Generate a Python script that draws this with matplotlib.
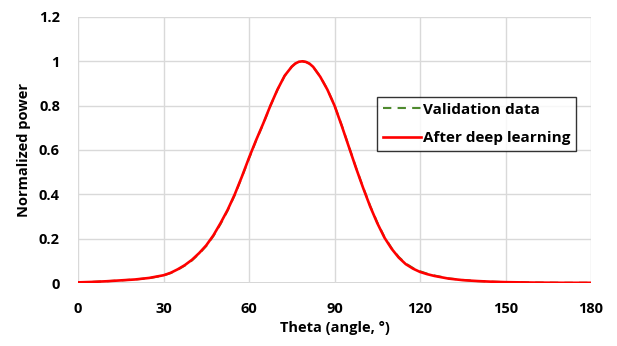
import matplotlib
matplotlib.use("Agg")
import matplotlib.pyplot as plt

theta = [0, 5, 10, 15, 20, 25, 30, 32.5, 35, 37.5, 40, 42.5, 45, 47.5, 50,
         52.5, 55, 57.5, 60, 62.5, 65, 67.5, 70, 72.5, 75, 76.25, 77.5, 78.75,
         80, 81.25, 82.5, 85, 87.5, 90, 92.5, 95, 97.5, 100, 102.5, 105, 107.5,
         110, 112.5, 115, 117.5, 120, 122.5, 125, 130, 135, 140, 145, 150, 155,
         160, 165, 170, 175, 180]
after_dl = [0.003, 0.005, 0.008, 0.012, 0.016, 0.023, 0.035, 0.046, 0.062,
            0.081, 0.105, 0.135, 0.17, 0.215, 0.27, 0.33, 0.40, 0.48, 0.565,
            0.645, 0.72, 0.80, 0.873, 0.935, 0.976, 0.99, 0.998, 1.0, 0.997,
            0.989, 0.975, 0.93, 0.872, 0.80, 0.71, 0.615, 0.52, 0.43, 0.345,
            0.27, 0.205, 0.155, 0.115, 0.085, 0.065, 0.05, 0.04, 0.032, 0.02,
            0.013, 0.009, 0.006, 0.004, 0.003, 0.002, 0.0015, 0.001, 0.001,
            0.001]
validation = [0.003, 0.005, 0.008, 0.012, 0.016, 0.022, 0.034, 0.045, 0.060,
              0.079, 0.102, 0.132, 0.167, 0.212, 0.266, 0.327, 0.397, 0.478,
              0.562, 0.643, 0.718, 0.799, 0.872, 0.934, 0.976, 0.99, 0.998,
              1.0, 0.997, 0.989, 0.975, 0.931, 0.873, 0.801, 0.712, 0.617,
              0.522, 0.432, 0.348, 0.273, 0.208, 0.158, 0.118, 0.088, 0.068,
              0.053, 0.042, 0.034, 0.021, 0.014, 0.009, 0.006, 0.004, 0.003,
              0.002, 0.0015, 0.001, 0.001, 0.001]

x_ticks = [0, 30, 60, 90, 120, 150, 180]
y_ticks = [0, 0.2, 0.4, 0.6, 0.8, 1.0, 1.2]
y_labels = ["0", "0.2", "0.4", "0.6", "0.8", "1", "1.2"]

plt.rcParams["font.family"] = ["Open Sans", "DejaVu Sans"]

fig = plt.figure(figsize=(6.17, 3.46), dpi=100)
ax = fig.add_axes([0.1264, 0.182, 0.8316, 0.769])

ax.plot(theta, validation, color="#4e8a2e", linestyle=(0, (4, 3)), linewidth=1.5,
        label="Validation data")
ax.plot(theta, after_dl, color="#ff0000", linewidth=1.9, label="After deep learning")

ax.set_xlim(0, 180)
ax.set_ylim(0, 1.2)
ax.set_xticks(x_ticks)
ax.set_yticks(y_ticks)
ax.set_yticklabels(y_labels)
ax.tick_params(axis="x", length=0, labelsize=10.5, pad=14)
ax.tick_params(axis="y", length=0, labelsize=10.5, pad=13)
for lab in ax.get_xticklabels() + ax.get_yticklabels():
    lab.set_fontweight("bold")
ax.grid(True, color="#d9d9d9", linewidth=1)
ax.set_axisbelow(True)
for s in ax.spines.values():
    s.set_visible(False)
ax.axhline(0, color="#d0d0d0", linewidth=1.2, zorder=0)

ax.set_xlabel("Theta (angle, °)", fontsize=10.5, fontweight="bold", labelpad=3)
ax.set_ylabel("Normalized power", fontsize=10.5, fontweight="bold", labelpad=6)

leg = ax.legend(loc="center", bbox_to_anchor=(0.777, 0.598),
                frameon=True, fancybox=False, handlelength=2.5, handletextpad=0.15,
                borderpad=0.35, labelspacing=0.95, borderaxespad=0,
                prop={"weight": "bold", "size": 11})
leg.get_frame().set_edgecolor("black")
leg.get_frame().set_linewidth(1)

fig.savefig("out.png", dpi=100)
